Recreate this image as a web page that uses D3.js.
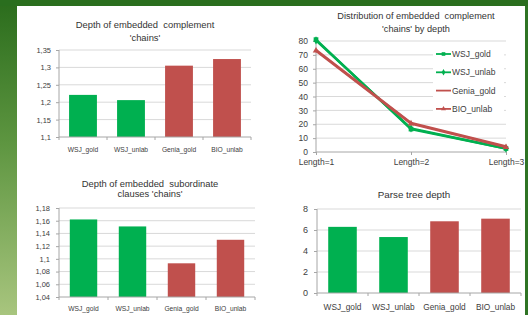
<!DOCTYPE html>
<html lang="en">
<head>
<meta charset="utf-8">
<script src="https://cdn.jsdelivr.net/npm/d3@7"></script>
<style>
  body { margin: 0; background: #fff; }
  text { font-family: "Liberation Sans", Arial, sans-serif; fill: #404040; }
</style>
</head>
<body>
<svg id="slide" width="528" height="315"></svg>
<script>
// categories
var corpora = ["WSJ_gold", "WSJ_unlab", "Genia_gold", "BIO_unlab"];
var lengths = ["Length=1", "Length=2", "Length=3"];

// values
var complementDepth = [1.221, 1.206, 1.305, 1.324];
var subordinateDepth = [1.162, 1.151, 1.093, 1.130];
var parseDepth = [6.3, 5.33, 6.83, 7.08];

var wsjGoldDist = [81, 16.5, 2.5];
var wsjUnlabDist = [80.5, 17, 2.5];
var geniaGoldDist = [73.5, 21, 4];
var bioUnlabDist = [73, 20.5, 3.5];

// tick labels
var complementTicks = [1.1, 1.15, 1.2, 1.25, 1.3, 1.35];
var subordinateTicks = [1.04, 1.06, 1.08, 1.1, 1.12, 1.14, 1.16, 1.18];
var parseTicks = [0, 2, 4, 6, 8];
var distTicks = [0, 10, 20, 30, 40, 50, 60, 70, 80];

var green = "#00b050", red = "#c0504d";
var barColors = [green, green, red, red];
var gridColor = "#d9d9d9", axisColor = "#a6a6a6";

var svg = d3.select("#slide");

// slide background
var defs = svg.append("defs");
var grad = defs.append("linearGradient").attr("id", "side")
    .attr("x1", 0).attr("y1", 0).attr("x2", 0).attr("y2", 1);
grad.append("stop").attr("offset", "0%").attr("stop-color", "#2a6c1c");
grad.append("stop").attr("offset", "45%").attr("stop-color", "#5d9540");
grad.append("stop").attr("offset", "100%").attr("stop-color", "#a8c57e");

svg.append("rect").attr("x", 0).attr("y", 0).attr("width", 17).attr("height", 315).attr("fill", "url(#side)");
svg.append("rect").attr("x", 0).attr("y", 0).attr("width", 528).attr("height", 6).attr("fill", "#2a6e1e");
svg.append("rect").attr("x", 525).attr("y", 6).attr("width", 3).attr("height", 309).attr("fill", "#2f7424");

function commaFmt(v) {
    return String(+v.toFixed(2)).replace(".", ",");
}

function title(lines, cx, ys, size) {
    lines.forEach(function(t, i) {
        svg.append("text")
            .attr("x", cx).attr("y", ys[i])
            .attr("text-anchor", "middle")
            .attr("dominant-baseline", "central")
            .style("font-size", size + "px")
            .style("white-space", "pre")
            .style("fill", "#333")
            .text(t);
    });
}

function barChart(cfg) {
    var g = svg.append("g");
    var x = d3.scaleBand().domain(corpora).range([cfg.x0, cfg.x1]).paddingInner(cfg.pad).paddingOuter(cfg.pad / 2);
    var y = d3.scaleLinear().domain(cfg.domain).range([cfg.y0, cfg.y1]);

    // gridlines
    g.selectAll("line.grid").data(cfg.ticks.slice(1)).enter().append("line")
        .attr("x1", cfg.x0).attr("x2", cfg.x1)
        .attr("y1", function(d) { return y(d); }).attr("y2", function(d) { return y(d); })
        .attr("stroke", gridColor).attr("stroke-width", 1);

    // bars
    g.selectAll("rect").data(cfg.values).enter().append("rect")
        .attr("x", function(d, i) { return x(corpora[i]); })
        .attr("width", x.bandwidth())
        .attr("y", function(d) { return y(d); })
        .attr("height", function(d) { return y(cfg.domain[0]) - y(d); })
        .attr("fill", function(d, i) { return barColors[i]; });

    // y axis
    var ya = d3.axisLeft(y).tickValues(cfg.ticks).tickSize(3).tickPadding(cfg.ypad || 4).tickFormat(cfg.fmt);
    var yg = g.append("g").attr("transform", "translate(" + cfg.x0 + ",0)").call(ya);
    yg.select(".domain").attr("stroke", axisColor).attr("d", "M0," + cfg.y0 + "V" + cfg.y1);
    yg.selectAll(".tick line").attr("stroke", axisColor);
    yg.selectAll("text").style("font-size", cfg.ySize + "px").style("font-family", "Liberation Sans, Arial, sans-serif").attr("fill", "#404040");

    // x axis with ticks between categories
    var xg = g.append("g");
    xg.append("line").attr("x1", cfg.x0).attr("x2", cfg.x1).attr("y1", cfg.y0).attr("y2", cfg.y0)
        .attr("stroke", axisColor);
    d3.range(corpora.length + 1).forEach(function(i) {
        var px = cfg.x0 + i * (cfg.x1 - cfg.x0) / corpora.length;
        xg.append("line").attr("x1", px).attr("x2", px).attr("y1", cfg.y0).attr("y2", cfg.y0 + 3)
            .attr("stroke", axisColor);
    });
    xg.selectAll("text").data(corpora).enter().append("text")
        .attr("x", function(d) { return x(d) + x.bandwidth() / 2; })
        .attr("y", cfg.labelY)
        .attr("text-anchor", "middle")
        .attr("dominant-baseline", "central")
        .style("font-size", cfg.xSize + "px")
        .text(function(d) { return d; });
}

// top-left
title(["Depth of embedded  complement", "'chains'"], 145, [24, 37], 9.4);
barChart({ x0: 59, x1: 251, y0: 137, y1: 50, domain: [1.1, 1.35], ticks: complementTicks,
    values: complementDepth, pad: 0.42, fmt: commaFmt, ySize: 7.5, xSize: 6.7, labelY: 149, ypad: 5 });

// bottom-left
title(["Depth of embedded  subordinate", "clauses 'chains'"], 150, [183, 193.5], 9.4);
barChart({ x0: 59, x1: 255, y0: 297, y1: 208, domain: [1.04, 1.18], ticks: subordinateTicks,
    values: subordinateDepth, pad: 0.44, fmt: commaFmt, ySize: 7.5, xSize: 6.7, labelY: 308, ypad: 6 });

// bottom-right
title(["Parse tree depth"], 414, [194], 9.8);
barChart({ x0: 317, x1: 521, y0: 293, y1: 209, domain: [0, 8], ticks: parseTicks,
    values: parseDepth, pad: 0.44, fmt: d3.format("d"), ySize: 9, xSize: 8.3, labelY: 307, ypad: 6 });

// top-right line chart
title(["Distribution of embedded  complement", "'chains' by depth"], 416, [16, 29], 9.2);
(function() {
    var g = svg.append("g");
    var x = d3.scalePoint().domain(lengths).range([316, 506]);
    var y = d3.scaleLinear().domain([0, 80]).range([152, 41]);

    g.selectAll("line.grid").data(distTicks.slice(1)).enter().append("line")
        .attr("x1", 316).attr("x2", 506)
        .attr("y1", function(d) { return y(d); }).attr("y2", function(d) { return y(d); })
        .attr("stroke", gridColor);

    var ya = d3.axisLeft(y).tickValues(distTicks).tickSize(3).tickPadding(5).tickFormat(d3.format("d"));
    var yg = g.append("g").attr("transform", "translate(316,0)").call(ya);
    yg.select(".domain").attr("stroke", axisColor).attr("d", "M0,152V41");
    yg.selectAll(".tick line").attr("stroke", axisColor);
    yg.selectAll("text").style("font-size", "8.5px").style("font-family", "Liberation Sans, Arial, sans-serif").attr("fill", "#404040");

    var xa = d3.axisBottom(x).tickSize(3).tickPadding(4);
    var xg = g.append("g").attr("transform", "translate(0,152)").call(xa);
    xg.select(".domain").attr("stroke", axisColor).attr("d", "M316,0H506");
    xg.selectAll(".tick line").attr("stroke", axisColor);
    xg.selectAll("text").style("font-size", "8.5px").style("font-family", "Liberation Sans, Arial, sans-serif").attr("fill", "#404040");

    var series = [
        { name: "WSJ_gold", values: wsjGoldDist, color: green, marker: d3.symbolSquare, size: 22 },
        { name: "WSJ_unlab", values: wsjUnlabDist, color: green, marker: d3.symbolDiamond, size: 20 },
        { name: "Genia_gold", values: geniaGoldDist, color: red, marker: null },
        { name: "BIO_unlab", values: bioUnlabDist, color: red, marker: d3.symbolTriangle, size: 18 }
    ];
    var line = d3.line()
        .x(function(d, i) { return x(lengths[i]); })
        .y(function(d) { return y(d); });

    series.forEach(function(s) {
        g.append("path").attr("d", line(s.values)).attr("fill", "none")
            .attr("stroke", s.color).attr("stroke-width", 2.4);
        if (s.marker) {
            g.selectAll(null).data(s.values).enter().append("path")
                .attr("d", d3.symbol().type(s.marker).size(s.size))
                .attr("transform", function(d, i) { return "translate(" + x(lengths[i]) + "," + y(d) + ")"; })
                .attr("fill", s.color);
        }
    });

    // legend
    var lg = g.append("g");
    lg.append("rect").attr("x", 433).attr("y", 45).attr("width", 71).attr("height", 73).attr("fill", "#fff");
    series.forEach(function(s, i) {
        var ly = 54 + i * 18.3;
        lg.append("line").attr("x1", 436).attr("x2", 451).attr("y1", ly).attr("y2", ly)
            .attr("stroke", s.color).attr("stroke-width", 1.8);
        if (s.marker) {
            lg.append("path").attr("d", d3.symbol().type(s.marker).size(s.size * 0.6))
                .attr("transform", "translate(443.5," + ly + ")").attr("fill", s.color);
        }
        lg.append("text").attr("x", 452).attr("y", ly).attr("dominant-baseline", "central")
            .style("font-size", "8.5px").text(s.name);
    });
})();
</script>
</body>
</html>
